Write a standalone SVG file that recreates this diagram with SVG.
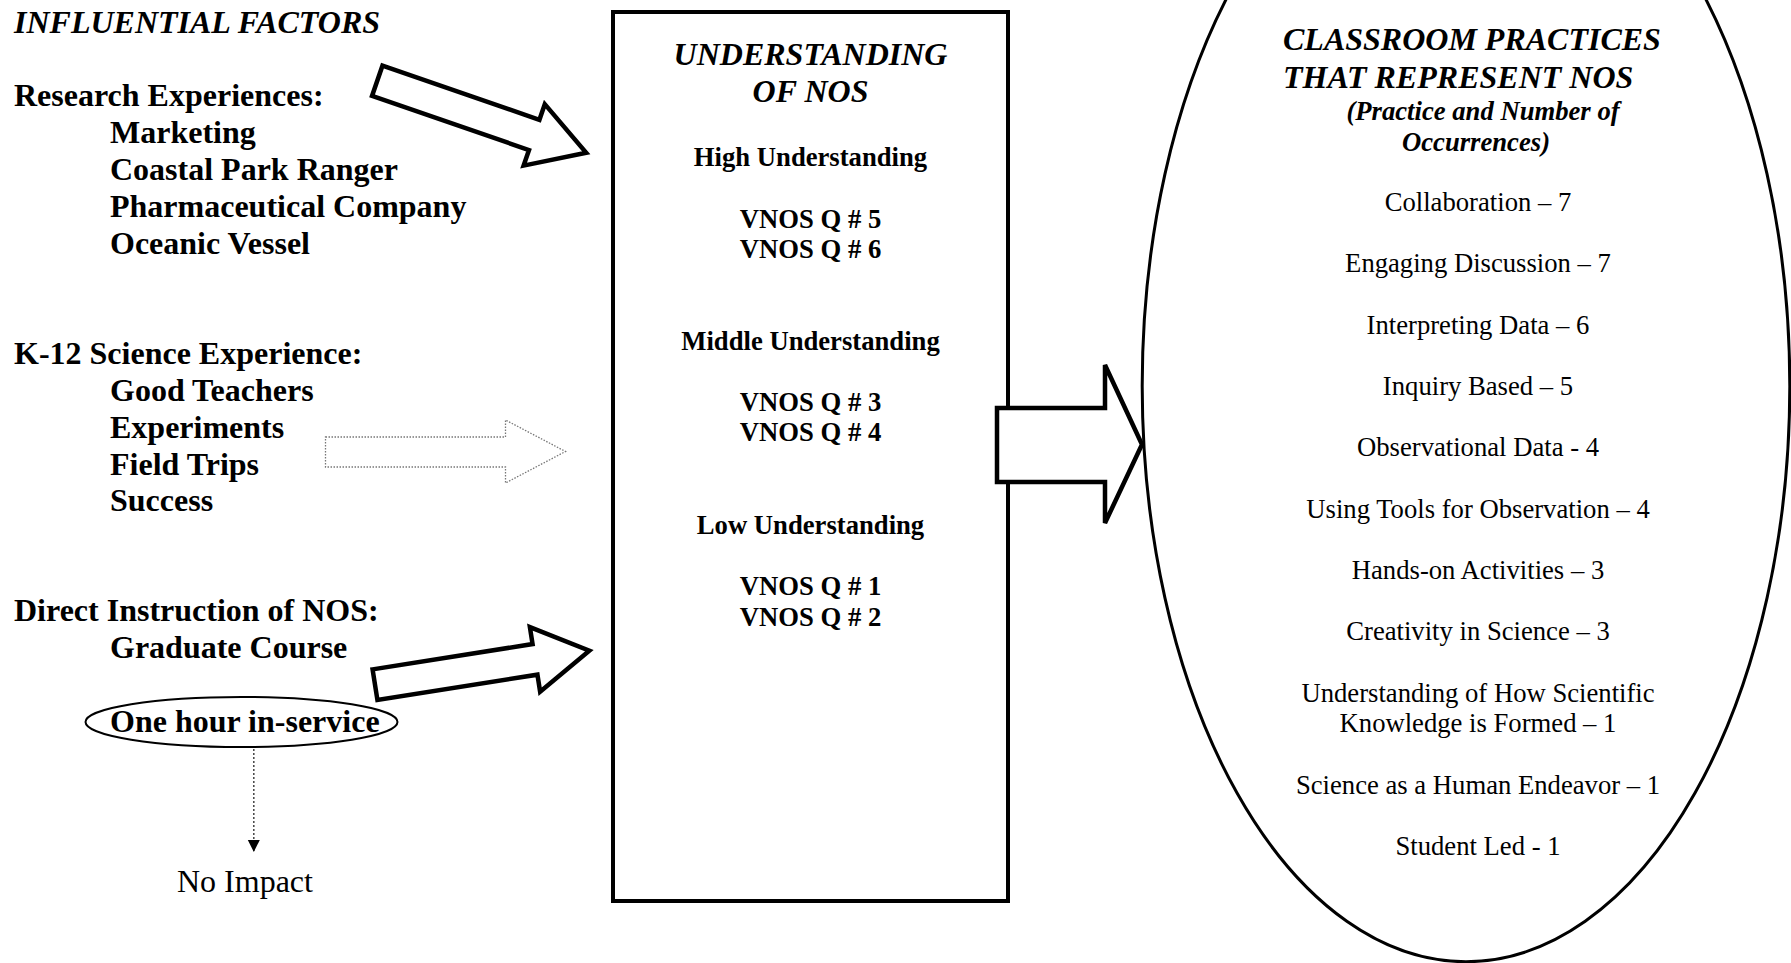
<svg xmlns="http://www.w3.org/2000/svg" width="1791" height="963" viewBox="0 0 1791 963">
<style>
text{font-family:"Liberation Serif","Times New Roman",serif;fill:#000}
.h{font-size:32px;font-weight:bold}
.hi{font-size:32px;font-weight:bold;font-style:italic}
.b{font-size:26.67px;font-weight:bold}
.bi{font-size:26.67px;font-weight:bold;font-style:italic}
.r{font-size:26.67px}
.r32{font-size:32px}
.c{text-anchor:middle}
.blk{fill:#fff;stroke:#000;stroke-width:4.5;stroke-linejoin:miter}
</style>
<defs>
<marker id="tri" markerWidth="12" markerHeight="16" refX="11" refY="6" orient="auto" markerUnits="userSpaceOnUse">
<path d="M0,0 L12,6 L0,12 Z" fill="#000"/>
</marker>
</defs>
<rect width="1791" height="963" fill="#fff"/>

<g id="title">
<text class="hi" x="14" y="33">INFLUENTIAL FACTORS</text>
</g>

<g id="node-research">
<text class="h" x="14" y="106">Research Experiences:</text>
<text class="h" x="110" y="143">Marketing</text>
<text class="h" x="110" y="180">Coastal Park Ranger</text>
<text class="h" x="110" y="217">Pharmaceutical Company</text>
<text class="h" x="110" y="254">Oceanic Vessel</text>
</g>

<g id="node-k12">
<text class="h" x="14" y="364">K-12 Science Experience:</text>
<text class="h" x="110" y="401">Good Teachers</text>
<text class="h" x="110" y="438">Experiments</text>
<text class="h" x="110" y="475">Field Trips</text>
<text class="h" x="110" y="511">Success</text>
</g>

<g id="node-direct">
<text class="h" x="14" y="621">Direct Instruction of NOS:</text>
<text class="h" x="110" y="658">Graduate Course</text>
</g>

<g id="node-inservice">
<ellipse cx="241.5" cy="722" rx="156" ry="25" fill="#fff" stroke="#000" stroke-width="2"/>
<text class="h" x="110" y="732">One hour in-service</text>
</g>

<g id="node-noimpact">
<text class="r32" x="177" y="892">No Impact</text>
</g>

<g id="node-understanding">
<rect x="613" y="12" width="395" height="889" fill="#fff" stroke="#000" stroke-width="4"/>
<text class="hi c" x="810.5" y="65">UNDERSTANDING</text>
<text class="hi c" x="810.5" y="102">OF NOS</text>
<text class="b c" x="810.5" y="166">High Understanding</text>
<text class="b c" x="810.5" y="228">VNOS Q # 5</text>
<text class="b c" x="810.5" y="258">VNOS Q # 6</text>
<text class="b c" x="810.5" y="350">Middle Understanding</text>
<text class="b c" x="810.5" y="411">VNOS Q # 3</text>
<text class="b c" x="810.5" y="441">VNOS Q # 4</text>
<text class="b c" x="810.5" y="534">Low Understanding</text>
<text class="b c" x="810.5" y="595">VNOS Q # 1</text>
<text class="b c" x="810.5" y="626">VNOS Q # 2</text>
</g>

<g id="node-practices">
<ellipse cx="1466" cy="386" rx="323.8" ry="575.7" fill="#fff" stroke="#000" stroke-width="3"/>
<text class="hi" x="1283" y="50">CLASSROOM PRACTICES</text>
<text class="hi" x="1283" y="88">THAT REPRESENT NOS</text>
<text class="bi c" x="1483" y="120">(Practice and Number of</text>
<text class="bi c" x="1476" y="151">Occurrences)</text>
<text class="r c" x="1478" y="211">Collaboration – 7</text>
<text class="r c" x="1478" y="272">Engaging Discussion – 7</text>
<text class="r c" x="1478" y="334">Interpreting Data – 6</text>
<text class="r c" x="1478" y="395">Inquiry Based – 5</text>
<text class="r c" x="1478" y="456">Observational Data - 4</text>
<text class="r c" x="1478" y="518">Using Tools for Observation – 4</text>
<text class="r c" x="1478" y="579">Hands-on Activities – 3</text>
<text class="r c" x="1478" y="640">Creativity in Science – 3</text>
<text class="r c" x="1478" y="702">Understanding of How Scientific</text>
<text class="r c" x="1478" y="732">Knowledge is Formed – 1</text>
<text class="r c" x="1478" y="794">Science as a Human Endeavor – 1</text>
<text class="r c" x="1478" y="855">Student Led - 1</text>
</g>

<g id="connectors">
<polygon class="blk" transform="translate(377.25,80.85) rotate(19)" points="0,-16 166,-16 166,-32.5 221,0 166,32.5 166,16 0,16"/>
<polygon points="325.5,437 505.5,437 505.5,420 565.5,451.5 505.5,483 505.5,467 325.5,467" fill="#fff" stroke="#777" stroke-width="1.3" stroke-dasharray="1.5 1.5"/>
<polygon class="blk" transform="translate(375,684.7) rotate(-9)" points="0,-15.5 162,-15.5 162,-32.7 217,0 162,32.7 162,15.5 0,15.5"/>
<polygon class="blk" points="997,408 1105,408 1105,365 1142,444.5 1105,523 1105,482 997,482"/>
<line x1="253.8" y1="749" x2="253.8" y2="851" stroke="#444" stroke-width="1.5" stroke-dasharray="2 2" marker-end="url(#tri)"/>
</g>
</svg>
